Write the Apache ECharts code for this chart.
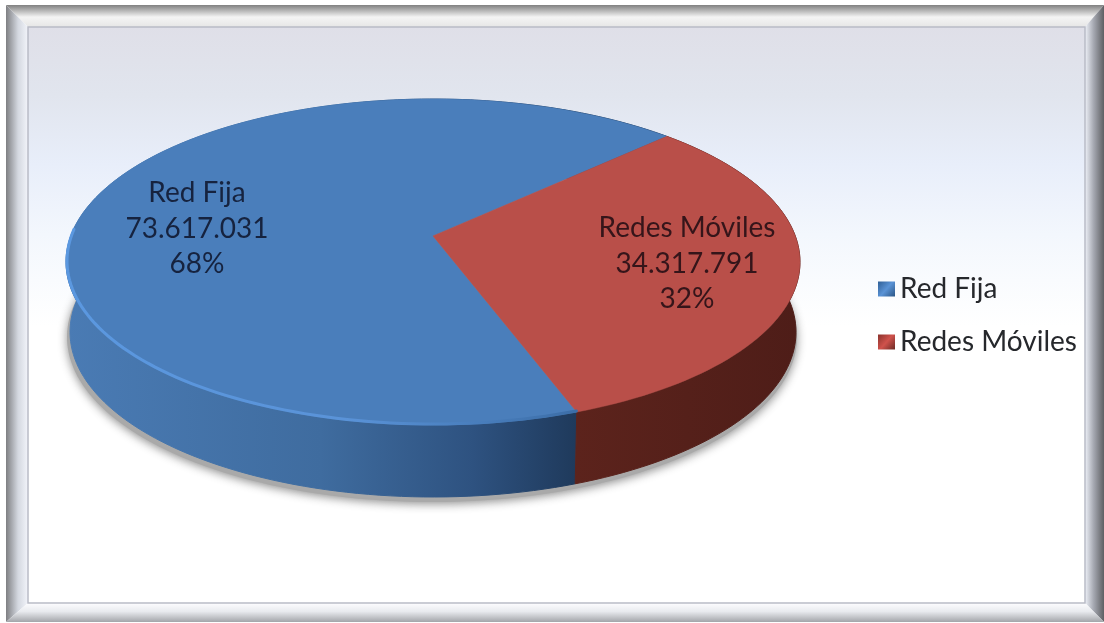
<!DOCTYPE html>
<html>
<head>
<meta charset="utf-8">
<style>html,body{margin:0;padding:0;background:#fff}#c{width:1104px;height:623px}</style>
<script src="https://cdn.jsdelivr.net/npm/echarts@6/dist/echarts.min.js"></script>
</head>
<body>
<div id="c"></div>
<script>
var categories = ['Red Fija', 'Redes Móviles'];
var values = [73617031, 34317791];
var firstSliceAngle = 160.3;

var FONT = 'Lato, "Open Sans", sans-serif';
var TOP = { cx: 433, cy: 262, rx: 367, ry: 163 };
var BOT = { cx: 433, cy: 332, rx: 363, ry: 165 };
var APEX = -0.16; // perspective shift of the pie centre
var LABEL_POS = [[197, 193], [687, 228]];
var TOP_COL = ['#4a7ebb', '#b94f49'];
var SIDE_COL = [
  { type: 'linear', x: 66, y: 0, x2: 575, y2: 0, global: true, colorStops: [
    { offset: 0, color: '#4a7bb4' }, { offset: .5, color: '#3f6c9f' }, { offset: .8, color: '#2e5280' }, { offset: 1, color: '#1f3a5c' }] },
  { type: 'linear', x: 575, y: 0, x2: 800, y2: 0, global: true, colorStops: [
    { offset: 0, color: '#5c231c' }, { offset: 1, color: '#4e1d18' }] }
];
var EDGE_COL = [
  { type: 'linear', x: 66, y: 0, x2: 575, y2: 0, global: true, colorStops: [
    { offset: 0, color: '#5b98e0' }, { offset: .55, color: '#5a93d8' }, { offset: 1, color: '#3c6ea8' }] },
  { type: 'linear', x: 575, y: 0, x2: 800, y2: 0, global: true, colorStops: [
    { offset: 0, color: '#7d332c' }, { offset: 1, color: '#6a2a25' }] }
];
var LEGEND_COL = [
  { type: 'linear', x: 0, y: 0, x2: 1, y2: 1, colorStops: [{ offset: 0, color: '#2f5f96' }, { offset: .5, color: '#5a93d6' }, { offset: 1, color: '#2b5585' }] },
  { type: 'linear', x: 0, y: 0, x2: 1, y2: 1, colorStops: [{ offset: 0, color: '#8a322c' }, { offset: .5, color: '#d0524c' }, { offset: 1, color: '#6b2a25' }] }
];

var total = values.reduce(function (a, b) { return a + b; }, 0);

function project(deg, box) {
  var a = deg * Math.PI / 180, u = Math.sin(a), v = -Math.cos(a);
  var d = 1 + APEX * v;
  return [box.cx + box.rx * u * Math.sqrt(1 - APEX * APEX) / d, box.cy + box.ry * (v + APEX) / d];
}
function arcPts(a0, a1, box) {
  var n = Math.max(2, Math.ceil((a1 - a0) / 1.5)), pts = [];
  for (var i = 0; i <= n; i++) pts.push(project(a0 + (a1 - a0) * i / n, box));
  return pts;
}
function slice(idx) {
  var start = firstSliceAngle;
  for (var i = 0; i < idx; i++) start += values[i] / total * 360;
  return [start, start + values[idx] / total * 360];
}
function fmt(n) { return String(n).replace(/\B(?=(\d{3})+(?!\d))/g, '.'); }

function makeRender(idx) {
  return function (params, api) {
    var v = api.value(0);
    var s = slice(idx), a0 = s[0], a1 = s[1];
    var top = arcPts(a0, a1, TOP), bot = arcPts(a0, a1, BOT);
    var apex = [TOP.cx, TOP.cy + TOP.ry * APEX];
    var children = [];
    if (idx === 0) {
      children.push({
        type: 'polygon', z2: 0, silent: true,
        shape: { points: arcPts(0, 360, { cx: BOT.cx - 1, cy: BOT.cy + 5, rx: BOT.rx + 2, ry: BOT.ry }) },
        style: { fill: '#a9a9a9', shadowBlur: 10, shadowColor: 'rgba(70,70,70,.6)', shadowOffsetY: 2 }
      });
    }
    children.push({
      type: 'polygon', z2: 1,
      shape: { points: top.concat(bot.slice().reverse()) },
      style: { fill: SIDE_COL[idx], stroke: SIDE_COL[idx], lineWidth: 1 }
    });
    children.push({
      type: 'polygon', z2: 3,
      shape: { points: [apex].concat(top) },
      style: { fill: TOP_COL[idx], stroke: TOP_COL[idx], lineWidth: 0.5 }
    });
    // lit bevel along the front rim only
    var fb0 = Math.max(a0, 90), fb1 = Math.min(a1, 272);
    if (fb1 > fb0) {
      children.push({
        type: 'polyline', z2: 4,
        shape: { points: arcPts(fb0, fb1, { cx: TOP.cx, cy: TOP.cy - 1, rx: TOP.rx - 1, ry: TOP.ry }) },
        style: { fill: null, stroke: EDGE_COL[idx], lineWidth: 3, lineCap: 'round' }
      });
    }
    children.push({
      type: 'text', z2: 6, silent: true,
      style: {
        x: LABEL_POS[idx][0], y: LABEL_POS[idx][1] + 35.5,
        text: [categories[idx], fmt(v), Math.round(v / total * 100) + '%'].join('\n'),
        fill: idx === 0 ? '#16233f' : '#35151a',
        font: '28px ' + FONT, lineHeight: 35.5, align: 'center', verticalAlign: 'middle'
      }
    });
    return { type: 'group', children: children };
  };
}

function band(pts, c0, c1, c2, box) {
  return {
    type: 'polygon', silent: true, z: -5,
    shape: { points: pts },
    style: { fill: { type: 'linear', x: box[0], y: box[1], x2: box[2], y2: box[3], global: true,
      colorStops: [{ offset: 0, color: c0 }, { offset: .55, color: c1 }, { offset: 1, color: c2 }] } }
  };
}

var chart = echarts.init(document.getElementById('c'), null, { renderer: 'canvas' });
chart.setOption({
  animation: false,
  backgroundColor: '#ffffff',
  legend: {
    orient: 'vertical', left: 873, top: 269,
    itemWidth: 17, itemHeight: 15, itemGap: 23, icon: 'rect',
    data: categories,
    textStyle: { fontFamily: FONT, fontSize: 28, color: '#26282c', lineHeight: 30 }
  },
  graphic: [
    { type: 'rect', silent: true, z: -6, shape: { x: 6, y: 5, width: 1098, height: 618 }, style: { fill: '#fff' } },
    band([[6, 5], [1104, 5], [1085, 27], [28, 27]], '#808080', '#f4f4f4', '#e6e6e6', [0, 5, 0, 27]),
    band([[6, 5], [28, 27], [28, 603], [6, 622]], '#7e7f82', '#d4d8e0', '#f2f4fa', [6, 0, 28, 0]),
    band([[1104, 5], [1085, 27], [1085, 603], [1104, 622]], '#5e5f63', '#a6a9b2', '#eef1f8', [1104, 0, 1085, 0]),
    band([[6, 622], [28, 603], [1085, 603], [1104, 622]], '#a3a5aa', '#e8eaee', '#fdfdff', [0, 622, 0, 603]),
    {
      type: 'rect', silent: true, z: -4,
      shape: { x: 28, y: 27, width: 1057, height: 576 },
      style: {
        fill: { type: 'linear', x: 0, y: 0, x2: 0, y2: 1, colorStops: [
          { offset: 0, color: '#dfdfe8' }, { offset: .12, color: '#e1e5ee' }, { offset: .24, color: '#e8eefa' },
          { offset: .36, color: '#f3f7fd' }, { offset: .52, color: '#ffffff' }, { offset: 1, color: '#ffffff' }] },
        stroke: '#b9bcc6', lineWidth: 1.5
      }
    }
  ],
  series: categories.map(function (name, i) {
    return {
      type: 'custom', name: name, coordinateSystem: 'none',
      itemStyle: { color: LEGEND_COL[i] },
      renderItem: makeRender(i),
      data: [[values[i]]],
      clip: false
    };
  })
});
</script>
</body>
</html>
